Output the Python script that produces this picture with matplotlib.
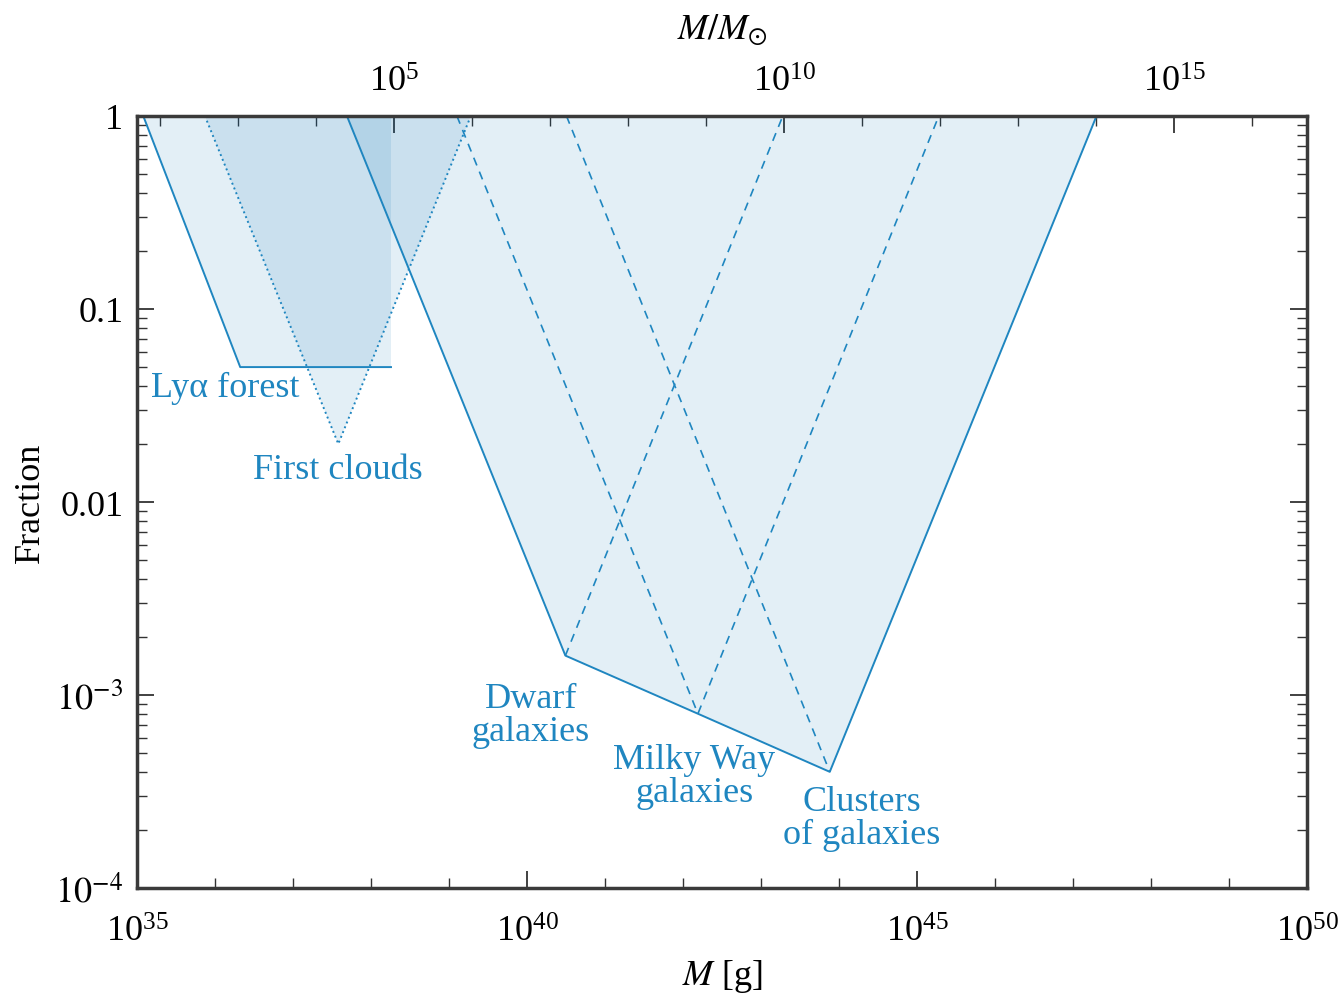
#
# Mass range vs fraction for cosmic structures
#
import numpy as np
import matplotlib
matplotlib.use('Agg')
import matplotlib.pyplot as plt
from matplotlib.ticker import FixedLocator, FixedFormatter, NullFormatter

plt.rcParams['font.family'] = ['Liberation Serif', 'DejaVu Serif']
plt.rcParams['mathtext.fontset'] = 'stix'

msun = 1.989e33

# Ly-alpha forest band (mass [g], fraction)
lya_m = [1.2e35, 2.1e36, 1.8e38, 1.8e38]
lya_f = [1.0, 0.05, 0.05, 1.0]

# first clouds triangle
first_m = [7.4e35, 3.8e37, 1.9e39]
first_f = [1.0, 0.02, 1.0]

# galaxies envelope: dwarf, Milky Way, clusters
env_m = [4.9e37, 3.1e40, 1.55e42, 7.6e43, 2.0e47]
env_f = [1.0, 1.6e-3, 8e-4, 4e-4, 1.0]

# inner dashed edges
dwarf_m = [3.1e40, 1.9e43]
dwarf_f = [1.6e-3, 1.0]
mw_m = [1.26e39, 1.55e42, 1.9e45]
mw_f = [1.0, 8e-4, 1.0]
clus_m = [3.2e40, 7.6e43]
clus_f = [1.0, 4e-4]

labels = ['Lyα forest', 'First clouds', 'Dwarf\ngalaxies',
          'Milky Way\ngalaxies', 'Clusters\nof galaxies']
label_m = [1.5e35, 3.8e37, 1.12e40, 1.4e42, 1.95e44]
label_f = [0.0394, 0.0148, 7.9e-4, 3.8e-4, 2.3e-4]

line_c = '#1f86c0'
fill_c = (0.0, 0.43, 0.71)
alpha = 0.11
fs = 26

fig = plt.figure(figsize=(13.44, 10.04), dpi=100)
ax = fig.add_axes([0.102, 0.1145, 0.8705, 0.769])
ax.set_xscale('log')
ax.set_yscale('log')
ax.set_xlim(1e35, 1e50)
ax.set_ylim(1e-4, 1)

# fills
ax.fill(lya_m, lya_f, color=fill_c, alpha=alpha, lw=0)
ax.fill(first_m, first_f, color=fill_c, alpha=alpha, lw=0)
ax.fill(env_m, env_f, color=fill_c, alpha=alpha, lw=0)

# outlines
ax.plot(lya_m[:3], lya_f[:3], color=line_c, lw=1.4)
ax.plot(first_m, first_f, color=line_c, lw=1.4, ls=':')
ax.plot(env_m, env_f, color=line_c, lw=1.4)
for mm, ff in [(dwarf_m, dwarf_f), (mw_m, mw_f), (clus_m, clus_f)]:
    ax.plot(mm, ff, color=line_c, lw=1.2, ls=(0, (5, 4)))

for t, x, y in zip(labels, label_m, label_f):
    ha = 'left' if t.startswith('Ly') else 'center'
    ax.text(x, y, t, color=line_c, fontsize=fs, ha=ha, va='center',
            multialignment='center', linespacing=1.0)

# bottom axis
ax.xaxis.set_major_locator(FixedLocator([1e35, 1e40, 1e45, 1e50]))
ax.xaxis.set_minor_locator(FixedLocator([10.0**k for k in range(35, 51)]))
ax.xaxis.set_minor_formatter(NullFormatter())
ax.yaxis.set_major_locator(FixedLocator([1e-4, 1e-3, 1e-2, 1e-1, 1]))
ax.yaxis.set_major_formatter(FixedFormatter(['$10^{-4}$', '$10^{-3}$', '0.01', '0.1', '1']))
ax.yaxis.set_minor_locator(FixedLocator([j * 10.0**k for k in range(-4, 0) for j in range(2, 10)]))
ax.yaxis.set_minor_formatter(NullFormatter())

ax.tick_params(which='both', direction='in', labelsize=fs, right=True, color='#333333')
ax.tick_params(axis='x', which='both', top=False, pad=20)
ax.tick_params(axis='y', which='both', pad=10)
ax.tick_params(which='major', length=12, width=1.3)
ax.tick_params(which='minor', length=7, width=1.0)
for s in ax.spines.values():
    s.set_linewidth(2.5)
    s.set_color('#3a3a3a')

ax.set_xlabel('$M$ [g]', fontsize=fs, labelpad=6)
ax.set_ylabel('Fraction', fontsize=fs, labelpad=6)

# top axis in solar masses
top = ax.secondary_xaxis('top', functions=(lambda m: m / msun, lambda m: m * msun))
top.xaxis.set_major_locator(FixedLocator([1e5, 1e10, 1e15]))
top.xaxis.set_minor_locator(FixedLocator([10.0**k for k in range(2, 17)]))
top.xaxis.set_minor_formatter(NullFormatter())
top.tick_params(which='both', direction='in', labelsize=fs, color='#333333', pad=12)
top.tick_params(which='major', length=12, width=1.3)
top.tick_params(which='minor', length=7, width=1.0)
top.spines['top'].set_visible(False)
top.set_xlabel(r'$M/M_{\odot}$', fontsize=fs, labelpad=20)

fig.savefig('out.png', dpi=100)
